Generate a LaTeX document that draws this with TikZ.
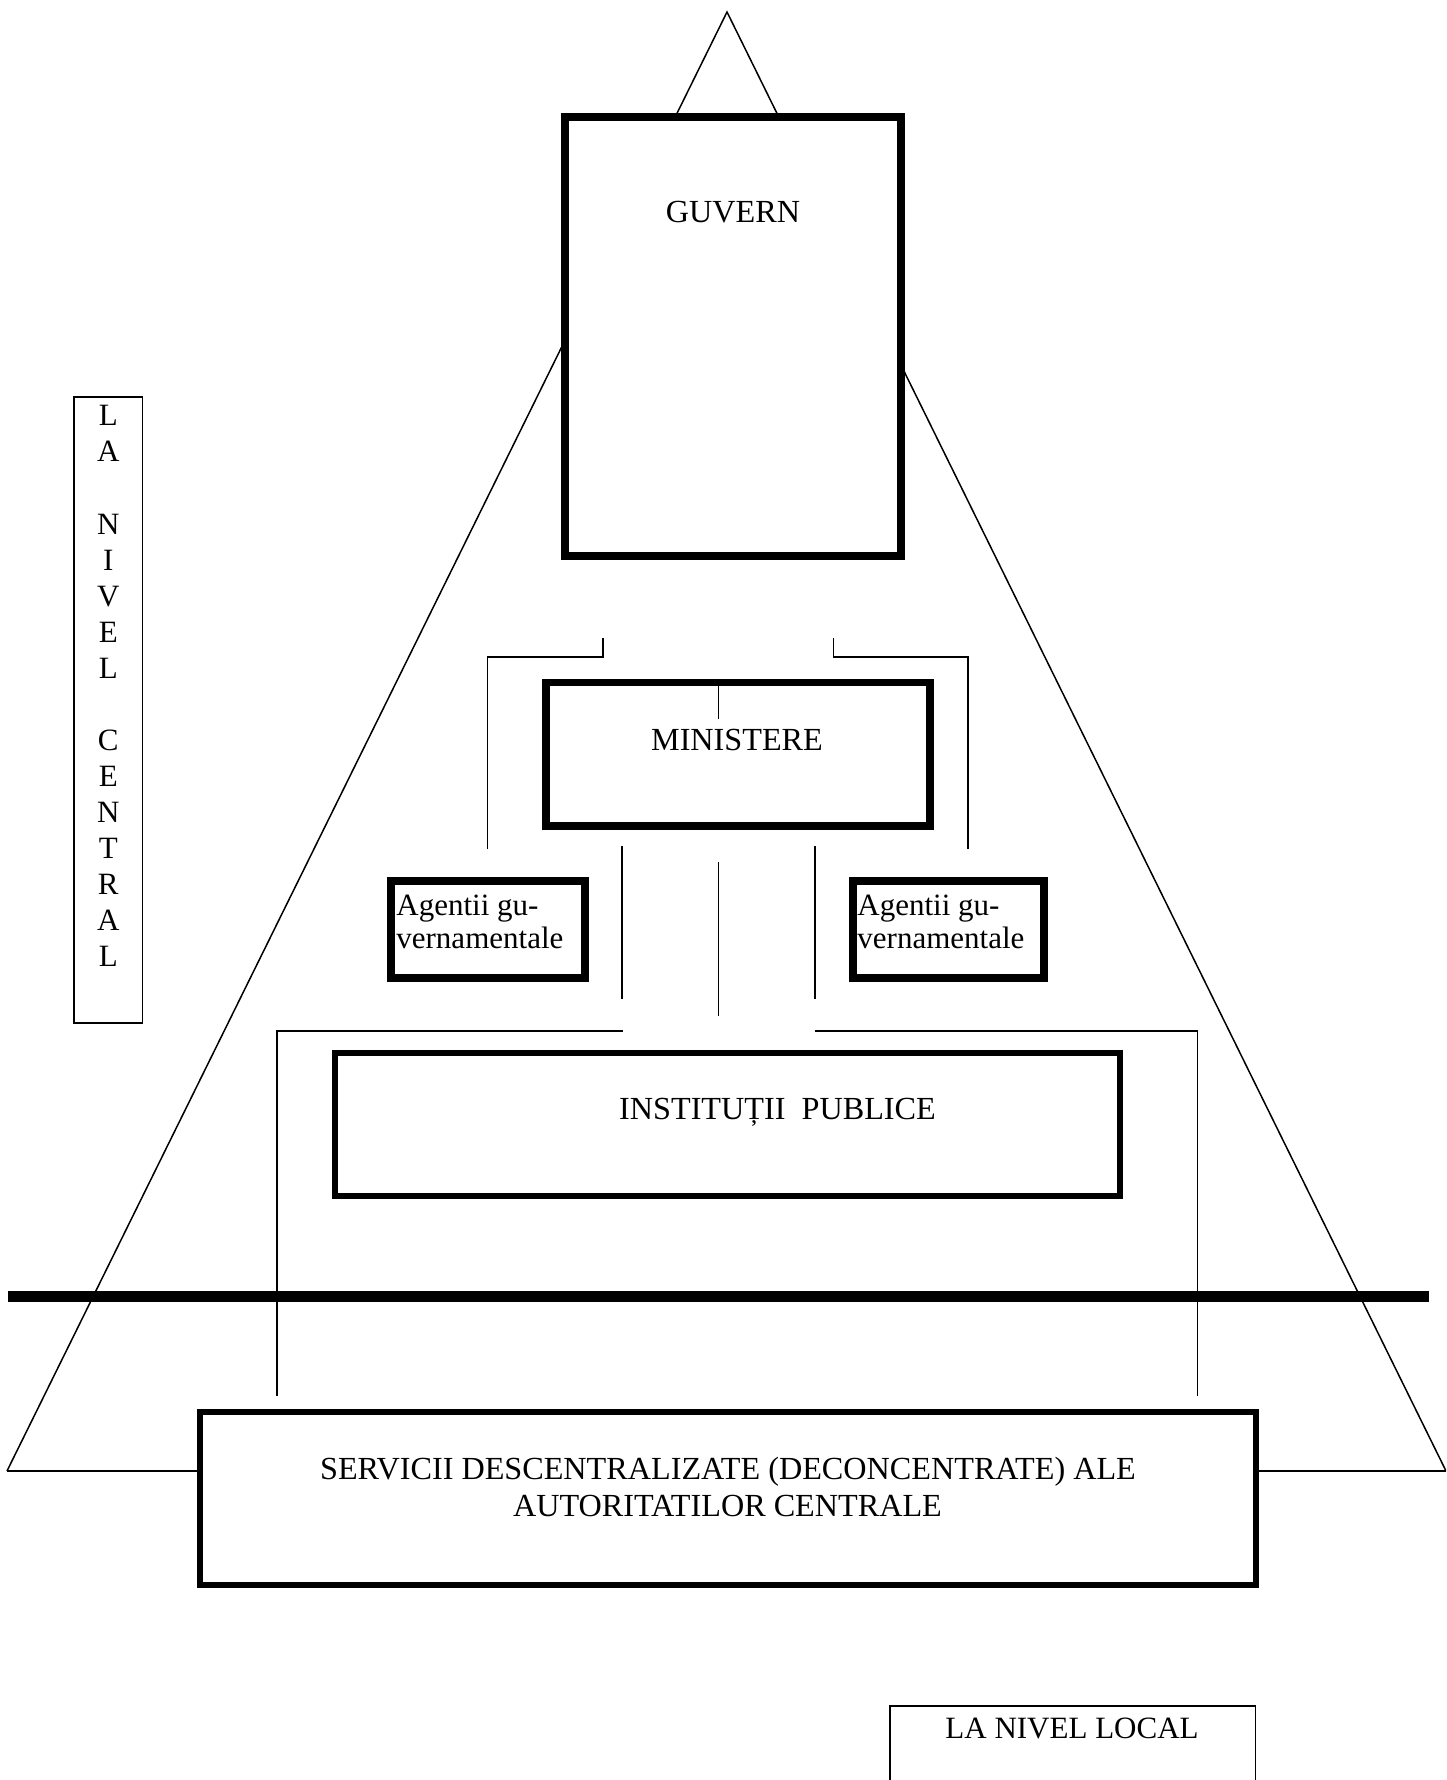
\documentclass[tikz,border=0pt]{standalone}
\usepackage{fontspec}
\setmainfont{Liberation Serif}
\begin{document}
\begin{tikzpicture}[x=0.5pt,y=-0.5pt,
  txt/.style={font=\fontsize{15.5pt}{18pt}\selectfont, inner sep=0pt, anchor=base},
  gtxt/.style={font=\fontsize{16.1pt}{18pt}\selectfont, inner sep=0pt, anchor=base},
  txtl/.style={txt, anchor=base west},
  thinline/.style={line width=0.75pt},
  heavybox/.style={draw, fill=white, line width=3.75pt, inner sep=0pt, rectangle},
  midbox/.style={draw, fill=white, line width=3pt, inner sep=0pt, rectangle},
  lightbox/.style={draw, fill=white, line width=0.75pt, inner sep=0pt, rectangle}]
\useasboundingbox (0,0) rectangle (1446,1780);
\clip (0,0) rectangle (1446,1780);
\fill[white] (0,0) rectangle (1446,1780);

% big triangle
\coordinate (apex) at (727,12);
\coordinate (bl) at (7,1471);
\coordinate (br) at (1446,1471);
\draw[thinline, line join=miter] (bl) -- (apex) -- (br);

% boxes
\node[heavybox, minimum width=168pt, minimum height=219.5pt] (guv) at (733,336.5) {};
\node[heavybox, minimum width=192pt, minimum height=71.75pt] (min) at (738,754.25) {};
\node[heavybox, minimum width=97pt, minimum height=48.5pt] (agl) at (488,929.5) {};
\node[heavybox, minimum width=95.5pt, minimum height=48.5pt] (agr) at (948.5,929.5) {};
\node[midbox, minimum width=392.5pt, minimum height=71.5pt] (inst) at (727,1124.5) {};
\node[midbox, minimum width=528pt, minimum height=86.5pt] (serv) at (728,1498) {};
\node[lightbox, minimum width=34.35pt, minimum height=313pt] (central) at (108.3,710) {};
\node[lightbox, minimum width=182.85pt, minimum height=47pt] (local) at (1072.8,1753) {};

% base of triangle to SERVICII box
\draw[thinline] (bl) -- (bl -| serv.west);
\draw[thinline] (br) -- (br -| serv.east);

% thick separator
\coordinate (sepL) at (8,1296);
\coordinate (sepR) at (1429,1296);
\draw[line width=5.5pt] (sepL) -- (sepR);

% connectors
\coordinate (mi) at (718.7,719);
\draw[thinline] (mi |- min.north) -- (mi);

\coordinate (lb1) at (603,638);
\coordinate (lb2) at (487.5,849);
\draw[thinline] (lb1) -- (603,657) -- (487.5,657) -- (lb2);
\coordinate (rb1) at (833.4,638);
\coordinate (rb2) at (968,849);
\draw[thinline] (rb1) -- (833.4,657) -- (968,657) -- (rb2);

\coordinate (v1a) at (622,846);  \coordinate (v1b) at (622,999);
\coordinate (v2a) at (718.5,862); \coordinate (v2b) at (718.5,1016);
\coordinate (v3a) at (815,846);  \coordinate (v3b) at (815,999);
\draw[thinline] (v1a) -- (v1b);
\draw[thinline] (v2a) -- (v2b);
\draw[thinline] (v3a) -- (v3b);

\coordinate (bb1) at (622.7,1031);
\coordinate (bb2) at (277,1396);
\draw[thinline] (bb1) -- (277,1031) -- (bb2);
\coordinate (bb3) at (815,1031);
\coordinate (bb4) at (1197.5,1396);
\draw[thinline] (bb3) -- (1197.5,1031) -- (bb4);

% texts
\node[gtxt] (tguv) at (733,222.5) {GUVERN};
\node[gtxt] (tmin) at (737,750) {MINISTERE};
\node[txtl] (tagl1) at (396,915) {Agentii gu-};
\node[txtl] (tagl2) at (396,948) {vernamentale};
\node[txtl] (tagr1) at (857,915) {Agentii gu-};
\node[txtl] (tagr2) at (857,948) {vernamentale};
\node[gtxt] (tinst) at (777.5,1119.3) {INSTITUȚII\ \ PUBLICE};
\node[gtxt] (tserv1) at (728,1479.3) {SERVICII DESCENTRALIZATE (DECONCENTRATE) ALE};
\node[gtxt] (tserv2) at (727.5,1516.7) {AUTORITATILOR CENTRALE};
\node[txt] (tlocal) at (1072,1738) {LA NIVEL LOCAL};
\foreach \ch [count=\i from 0] in {L,A,{},N,I,V,E,L,{},C,E,N,T,R,A,L}
  \node[txt] (c\i) at (108.3,426+36*\i) {\ch};
\end{tikzpicture}
\end{document}
